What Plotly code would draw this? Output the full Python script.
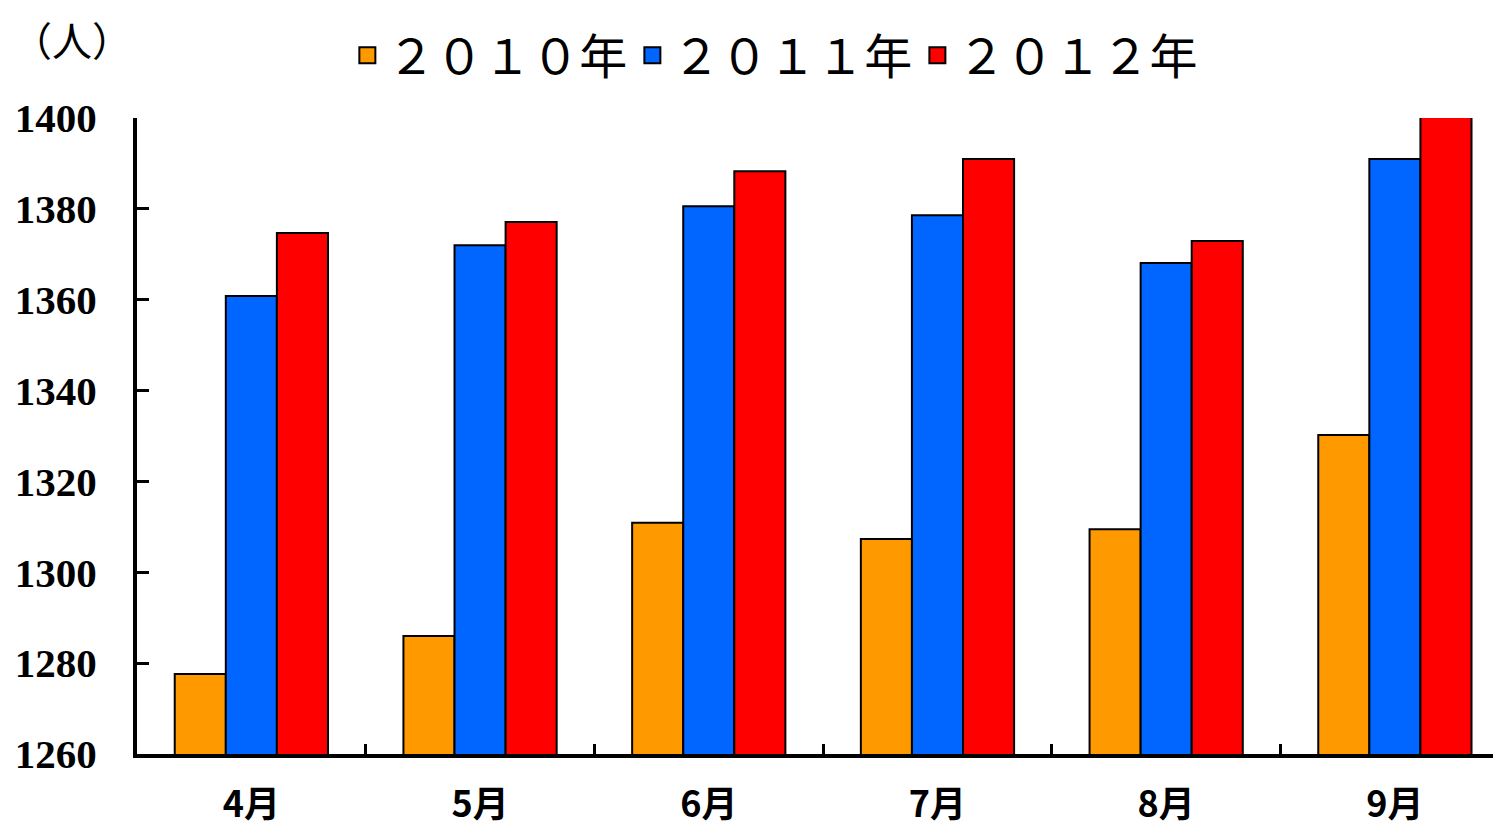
import plotly.graph_objects as go

months = ["4月", "5月", "6月", "7月", "8月", "9月"]
series_names = ["２０１０年", "２０１１年", "２０１２年"]
v2010 = [1277.6, 1286.0, 1310.9, 1307.3, 1309.5, 1330.2]
v2011 = [1360.8, 1372.0, 1380.6, 1378.6, 1368.1, 1391.0]
v2012 = [1374.7, 1377.1, 1388.3, 1391.0, 1372.9, 1403.0]
colors = ["#FF9900", "#0066FF", "#FF0000"]
y_ticks = [1260, 1280, 1300, 1320, 1340, 1360, 1380, 1400]

fig = go.Figure()
for name, vals, col in zip(series_names, [v2010, v2011, v2012], colors):
    fig.add_trace(go.Bar(
        x=months, y=vals, name=name, showlegend=False,
        marker=dict(color=col, line=dict(color="black", width=2)),
    ))
# legend proxies (larger square symbols)
for name, col in zip(series_names, colors):
    fig.add_trace(go.Scatter(
        x=[None], y=[None], mode="markers", name=name,
        marker=dict(symbol="square", size=16, color=col,
                    line=dict(color="black", width=2)),
    ))

fig.update_layout(
    width=1493, height=819,
    margin=dict(l=129, r=0, t=110, b=73, autoexpand=False),
    paper_bgcolor="white", plot_bgcolor="white",
    barmode="group", bargap=0.33, bargroupgap=0,
    showlegend=True,
    legend=dict(
        orientation="h", x=0.468, xanchor="center", y=1.098, yanchor="middle",
        itemsizing="trace",
        font=dict(family="Noto Sans CJK JP", size=48, color="black"),
        itemwidth=30, tracegroupgap=0,
        bgcolor="rgba(0,0,0,0)",
    ),
    xaxis=dict(
        type="category", range=[-0.5, 5.464], automargin=False,
        showline=True, linecolor="black", linewidth=4,
        ticks="inside", tickson="boundaries", ticklen=10, tickwidth=3, tickcolor="black",
        tickfont=dict(family="Noto Sans CJK JP", size=36, color="black", weight="bold"),
        ticklabelstandoff=16,
        showgrid=False, zeroline=False,
    ),
    yaxis=dict(
        range=[1260, 1400], tickvals=y_ticks, automargin=False,
        showline=True, linecolor="black", linewidth=4,
        ticks="inside", ticklen=12, tickwidth=3, tickcolor="black",
        tickfont=dict(family="Liberation Serif", size=41, color="black", weight="bold"),
        ticklabelstandoff=28,
        showgrid=False, zeroline=False,
    ),
    annotations=[dict(
        text="（人）", xref="paper", yref="paper", x=-0.048, y=1.124,
        xanchor="center", yanchor="middle", showarrow=False,
        font=dict(family="Noto Sans CJK JP", size=40, color="black"),
    )],
)

fig.write_html("out.html")
